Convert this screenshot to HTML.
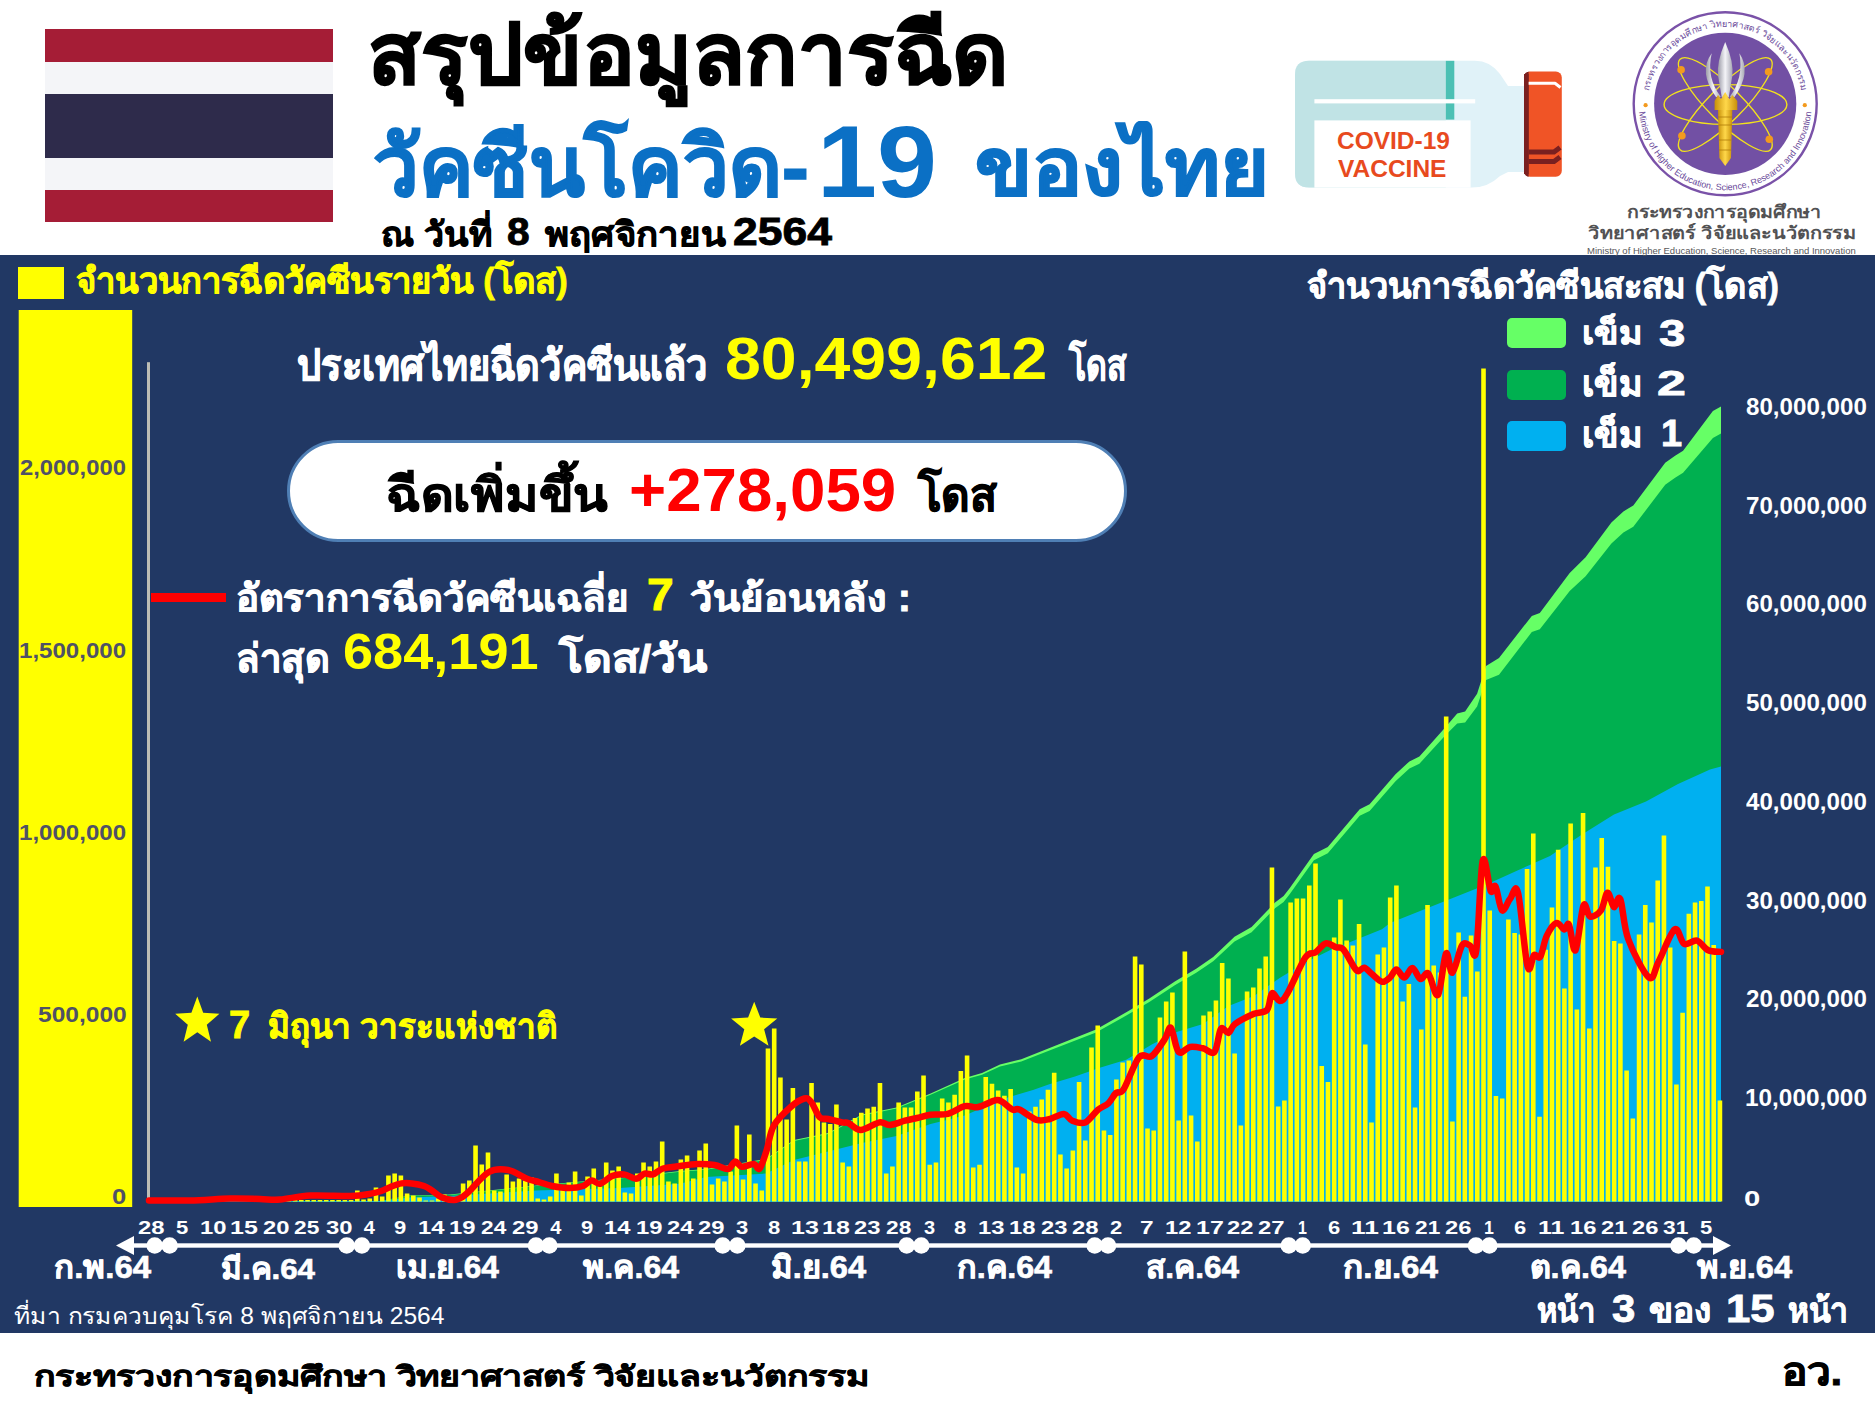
<!DOCTYPE html>
<html><head><meta charset="utf-8"><title>COVID-19 Vaccination Thailand</title>
<style>
html,body{margin:0;padding:0;background:#fff;}
body{width:1875px;height:1407px;position:relative;overflow:hidden;font-family:"Liberation Sans",sans-serif;}
.t{position:absolute;white-space:nowrap;line-height:1;transform-origin:0 0;}
.b{-webkit-text-stroke:0.02em currentColor;}
.m{-webkit-text-stroke:0.022em currentColor;}
#art{position:absolute;left:0;top:0;visibility:visible}
</style></head><body>
<svg id="art" width="1875" height="1407" viewBox="0 0 1875 1407">
<rect x="0" y="0" width="1875" height="1407" fill="#fff"/>
<!-- flag -->
<rect x="45" y="29" width="288" height="33" fill="#A51D36"/>
<rect x="45" y="62" width="288" height="32" fill="#F4F5F8"/>
<rect x="45" y="94" width="288" height="64" fill="#2E2B4B"/>
<rect x="45" y="158" width="288" height="32" fill="#F4F5F8"/>
<rect x="45" y="190" width="288" height="32" fill="#A51D36"/>
<!-- vaccine bottle -->
<g>
<path d="M1309,60.8 H1475 Q1490,60.8 1500,74 L1508,86 H1524 V172 H1508 L1500,176 Q1488,187.6 1472,187.6 H1309 Q1295,187.6 1295,173.6 V74.8 Q1295,60.8 1309,60.8 Z" fill="#E0F2F8"/>
<path d="M1309,60.8 H1445.8 V187.6 H1309 Q1295,187.6 1295,173.6 V74.8 Q1295,60.8 1309,60.8 Z" fill="#C0E3E5"/>
<rect x="1445.8" y="60.8" width="8.5" height="58.8" fill="#4CC0B4"/>
<rect x="1314.4" y="99.2" width="160.8" height="4.2" fill="#fff"/>
<rect x="1314.4" y="120.4" width="156.2" height="67.2" fill="#fff"/>
<rect x="1524" y="71.6" width="37.8" height="105.2" rx="6" fill="#F05426"/>
<path d="M1530,71.6 Q1524,71.6 1524,77.6 V170.8 Q1524,176.8 1530,176.8 H1528.6 V71.6 Z" fill="#7A2020"/>
<rect x="1524" y="74" width="4.6" height="100" fill="#7A2020"/>
<path d="M1528.6,83.2 H1555 L1560.5,87.5" stroke="#fff" stroke-width="3" stroke-linejoin="round" fill="none"/>
<path d="M1528.6,152 H1554 L1560,147.5 M1528.6,161.5 H1554 L1560,157" stroke="#7A2020" stroke-width="5" stroke-linejoin="round" fill="none"/>
</g>
<g id="logo">
<defs>
<linearGradient id="silv" x1="0" y1="0" x2="1" y2="0"><stop offset="0" stop-color="#9A9AA6"/><stop offset="0.5" stop-color="#F4F4F8"/><stop offset="1" stop-color="#A8A8B4"/></linearGradient>
<linearGradient id="gold" x1="0" y1="0" x2="1" y2="0"><stop offset="0" stop-color="#C8900A"/><stop offset="0.5" stop-color="#FFD84A"/><stop offset="1" stop-color="#C8900A"/></linearGradient>
<path id="arcTop" d="M1648.2,103.8 A77,77 0 0,1 1802.2,103.8"/>
<path id="arcBot" d="M1638.7,103.8 A86.5,86.5 0 0,0 1811.7,103.8"/>
</defs>
<circle cx="1725.2" cy="103.8" r="91.5" fill="#fff" stroke="#7A52A8" stroke-width="2.4"/>
<circle cx="1725.2" cy="103.8" r="71.1" fill="#7250A4"/>
<text font-family="Liberation Sans, sans-serif" font-size="9" fill="#6A4A9A" letter-spacing="0.1"><textPath href="#arcTop" startOffset="50%" text-anchor="middle">กระทรวงการอุดมศึกษา วิทยาศาสตร์ วิจัยและนวัตกรรม</textPath></text>
<text font-family="Liberation Sans, sans-serif" font-size="9" fill="#6A4A9A"><textPath href="#arcBot" startOffset="50%" text-anchor="middle">Ministry of Higher Education, Science, Research and Innovation</textPath></text>
<circle cx="1645.6" cy="105.2" r="2.1" fill="#F39A1E"/>
<circle cx="1804.8" cy="105.2" r="2.1" fill="#F39A1E"/>
<g fill="none" stroke="#F2E21C" stroke-width="1.4">
<ellipse cx="1725.5" cy="104.5" rx="61.4" ry="19.9"/>
<ellipse cx="1725.3" cy="104.5" rx="64" ry="17" transform="rotate(45 1725.3 104.5)"/>
<ellipse cx="1725.3" cy="104.5" rx="64" ry="17" transform="rotate(-45 1725.3 104.5)"/>
</g>
<g fill="#F39A1E">
<circle cx="1681.1" cy="69.7" r="3.8"/><circle cx="1768.6" cy="71.8" r="3.8"/><circle cx="1681.9" cy="135.8" r="3.8"/><circle cx="1769.3" cy="139.3" r="3.8"/>
</g>
<path d="M1711.7,53.3 Q1698,72 1716,97 L1721,97 Q1706,78 1711.7,53.3 Z" fill="url(#silv)"/>
<path d="M1739.4,53.3 Q1752,72 1734.5,97 L1729.5,97 Q1744,78 1739.4,53.3 Z" fill="url(#silv)"/>
<path d="M1725.2,42 Q1734,62 1732.3,76 L1728.8,97 L1721.7,97 L1718.1,76 Q1716.5,62 1725.2,42 Z" fill="url(#silv)"/>
<path d="M1714.6,110 L1714.6,101 L1718,95 L1721,99 L1725.2,92 L1729.4,99 L1732.4,95 L1737.3,101 L1737.3,110 Z" fill="url(#gold)"/>
<path d="M1718,110 H1732.3 L1731,158 L1725.2,166 L1719.4,158 Z" fill="url(#gold)"/>
<g stroke="#B07C08" stroke-width="0.8">
<path d="M1718,117 H1732.3 M1718.5,125 H1732 M1719,140 H1731.5 M1719.2,150 H1731.2"/>
</g>
</g>

<!-- panel -->
<rect x="0" y="255" width="1875" height="1078" fill="#213864"/>
<rect x="18" y="267" width="46" height="32" fill="#FFFF00"/>
<rect x="18.7" y="310" width="113.5" height="897" fill="#FFFF00"/>
<rect x="147" y="362.2" width="3" height="840" fill="#BDBDB5"/>
<rect x="1507" y="318" width="59" height="30" rx="5" fill="#66FF66"/>
<rect x="1507" y="370" width="59" height="30" rx="5" fill="#00B050"/>
<rect x="1507" y="421" width="59" height="30" rx="5" fill="#00B0F0"/>
<path d="M149.0,1202.0 L149.0,1201.5 L380.0,1201.0 L410.0,1195.5 L450.0,1194.5 L536.0,1185.5 L620.0,1178.0 L680.0,1171.0 L706.0,1169.0 L766.0,1159.0 L794.0,1140.0 L828.0,1133.0 L862.0,1114.5 L896.5,1107.5 L930.6,1093.5 L964.8,1078.0 L982.0,1073.0 L1000.0,1064.6 L1021.3,1059.3 L1053.3,1046.5 L1096.0,1029.5 L1128.0,1011.3 L1149.3,998.6 L1174.8,981.5 L1196.2,968.7 L1213.2,957.0 L1234.5,936.7 L1251.6,927.1 L1275.0,902.6 L1283.6,896.0 L1290.0,887.8 L1313.9,854.0 L1327.8,847.0 L1359.7,809.2 L1369.6,804.2 L1395.5,774.3 L1409.4,761.4 L1419.4,756.4 L1445.2,727.6 L1457.2,713.6 L1465.1,711.6 L1477.1,693.7 L1486.0,665.9 L1499.0,657.9 L1531.8,615.9 L1539.8,612.9 L1569.7,573.1 L1585.6,557.2 L1611.4,522.4 L1623.4,511.4 L1633.3,505.4 L1665.2,462.7 L1675.1,455.7 L1683.1,450.7 L1712.9,410.9 L1721.0,406.5 L1721.0,1202.0 Z" fill="#66FF66"/>
<path d="M149.0,1202.0 L149.0,1201.5 L380.0,1201.3 L410.0,1195.8 L450.0,1194.9 L536.0,1186.0 L620.0,1178.6 L680.0,1171.7 L706.0,1169.7 L766.0,1159.8 L794.0,1140.9 L828.0,1133.9 L862.0,1115.4 L896.5,1108.5 L930.6,1094.8 L964.8,1079.6 L982.0,1074.8 L1000.0,1066.6 L1021.3,1061.5 L1053.3,1049.0 L1096.0,1032.5 L1128.0,1014.6 L1149.3,1002.1 L1174.8,985.2 L1196.2,972.7 L1213.2,961.3 L1234.5,941.5 L1251.6,932.2 L1275.0,908.3 L1283.6,901.9 L1290.0,893.8 L1313.9,860.2 L1327.8,853.3 L1359.7,815.8 L1369.6,810.9 L1395.5,781.3 L1409.4,768.6 L1419.4,763.8 L1445.2,735.6 L1457.2,723.4 L1465.1,722.6 L1477.1,706.4 L1486.0,679.9 L1499.0,674.7 L1531.8,632.0 L1539.8,629.2 L1569.7,591.1 L1585.6,576.3 L1611.4,543.4 L1623.4,532.6 L1633.3,526.8 L1665.2,484.7 L1675.1,477.7 L1683.1,472.7 L1712.9,437.9 L1721.0,433.5 L1721.0,1202.0 Z" fill="#00B050"/>
<path d="M149.0,1202.0 L149.0,1201.5 L380.0,1201.0 L410.0,1197.5 L450.0,1196.0 L536.0,1190.6 L620.0,1188.0 L680.0,1183.8 L706.0,1177.0 L766.0,1173.6 L794.0,1160.0 L828.0,1151.4 L862.0,1142.9 L896.5,1136.0 L930.6,1124.0 L964.8,1115.6 L999.0,1100.2 L1016.0,1095.0 L1033.0,1090.0 L1050.0,1084.0 L1075.0,1076.5 L1100.6,1067.5 L1126.2,1059.8 L1151.8,1044.5 L1177.4,1031.7 L1203.0,1024.0 L1228.5,1006.0 L1254.0,995.9 L1279.7,978.0 L1305.3,962.6 L1330.9,949.8 L1356.5,939.6 L1382.0,929.3 L1390.0,923.1 L1422.0,910.3 L1454.0,897.5 L1486.0,884.7 L1518.0,870.3 L1550.0,856.0 L1582.0,834.6 L1614.0,814.4 L1646.0,801.6 L1678.0,784.0 L1710.0,769.6 L1721.0,766.4 L1721.0,1202.0 Z" fill="#00B0F0"/>
<path d="M255.47,1200.0h4.60v1.5h-4.60z M261.70,1200.0h4.60v1.5h-4.60z M267.92,1200.0h4.60v1.5h-4.60z M274.14,1200.0h4.60v1.5h-4.60z M280.36,1200.0h4.60v1.5h-4.60z M286.58,1200.0h4.60v1.5h-4.60z M292.81,1200.0h4.60v1.5h-4.60z M299.03,1200.0h4.60v1.5h-4.60z M305.25,1200.0h4.60v1.5h-4.60z M311.47,1200.0h4.60v1.5h-4.60z M317.69,1200.0h4.60v1.5h-4.60z M323.92,1200.0h4.60v1.5h-4.60z M330.14,1200.0h4.60v1.5h-4.60z M336.36,1200.0h4.60v1.5h-4.60z M342.58,1200.0h4.60v1.5h-4.60z M348.80,1200.0h4.60v1.5h-4.60z M355.03,1190.5h4.60v11.0h-4.60z M361.25,1199.5h4.60v2.0h-4.60z M367.47,1198.5h4.60v3.0h-4.60z M373.69,1187.5h4.60v14.0h-4.60z M379.91,1196.5h4.60v5.0h-4.60z M386.14,1175.5h4.60v26.0h-4.60z M392.36,1173.5h4.60v28.0h-4.60z M398.58,1175.5h4.60v26.0h-4.60z M404.80,1193.5h4.60v8.0h-4.60z M411.02,1195.5h4.60v6.0h-4.60z M417.25,1197.5h4.60v4.0h-4.60z M423.47,1200.5h4.60v1.0h-4.60z M429.69,1200.5h4.60v1.0h-4.60z M435.91,1198.5h4.60v3.0h-4.60z M442.13,1194.5h4.60v7.0h-4.60z M448.36,1199.5h4.60v2.0h-4.60z M454.58,1199.5h4.60v2.0h-4.60z M460.80,1183.5h4.60v18.0h-4.60z M467.02,1180.5h4.60v21.0h-4.60z M473.24,1145.5h4.60v56.0h-4.60z M479.47,1164.5h4.60v37.0h-4.60z M485.69,1152.5h4.60v49.0h-4.60z M491.91,1190.5h4.60v11.0h-4.60z M498.13,1191.5h4.60v10.0h-4.60z M504.35,1174.5h4.60v27.0h-4.60z M510.58,1181.5h4.60v20.0h-4.60z M516.80,1178.5h4.60v23.0h-4.60z M523.02,1180.5h4.60v21.0h-4.60z M529.24,1177.5h4.60v24.0h-4.60z M535.46,1198.5h4.60v3.0h-4.60z M541.69,1199.5h4.60v2.0h-4.60z M547.91,1196.5h4.60v5.0h-4.60z M554.13,1173.5h4.60v28.0h-4.60z M560.35,1188.5h4.60v13.0h-4.60z M566.57,1182.5h4.60v19.0h-4.60z M572.80,1171.5h4.60v30.0h-4.60z M579.02,1195.5h4.60v6.0h-4.60z M585.24,1176.5h4.60v25.0h-4.60z M591.46,1168.5h4.60v33.0h-4.60z M597.68,1186.5h4.60v15.0h-4.60z M603.91,1162.5h4.60v39.0h-4.60z M610.13,1170.5h4.60v31.0h-4.60z M616.35,1166.5h4.60v35.0h-4.60z M622.57,1192.5h4.60v9.0h-4.60z M628.79,1193.5h4.60v8.0h-4.60z M635.02,1173.5h4.60v28.0h-4.60z M641.24,1162.5h4.60v39.0h-4.60z M647.46,1166.5h4.60v35.0h-4.60z M653.68,1161.5h4.60v40.0h-4.60z M659.90,1141.5h4.60v60.0h-4.60z M666.13,1181.5h4.60v20.0h-4.60z M672.35,1183.5h4.60v18.0h-4.60z M678.57,1159.5h4.60v42.0h-4.60z M684.79,1155.5h4.60v46.0h-4.60z M691.01,1178.5h4.60v23.0h-4.60z M697.24,1150.5h4.60v51.0h-4.60z M703.46,1143.5h4.60v58.0h-4.60z M709.68,1184.5h4.60v17.0h-4.60z M715.90,1178.5h4.60v23.0h-4.60z M722.12,1181.5h4.60v20.0h-4.60z M728.35,1171.5h4.60v30.0h-4.60z M734.57,1125.5h4.60v76.0h-4.60z M740.79,1179.5h4.60v22.0h-4.60z M747.01,1134.5h4.60v67.0h-4.60z M753.23,1183.5h4.60v18.0h-4.60z M759.46,1190.5h4.60v11.0h-4.60z M765.68,1048.5h4.60v153.0h-4.60z M771.90,1028.5h4.60v173.0h-4.60z M778.12,1077.5h4.60v124.0h-4.60z M784.34,1119.5h4.60v82.0h-4.60z M790.57,1088.0h4.60v113.5h-4.60z M796.79,1161.5h4.60v40.0h-4.60z M803.01,1161.5h4.60v40.0h-4.60z M809.23,1082.9h4.60v118.6h-4.60z M815.45,1102.5h4.60v99.0h-4.60z M821.68,1122.5h4.60v79.0h-4.60z M827.90,1123.9h4.60v77.6h-4.60z M834.12,1104.5h4.60v97.0h-4.60z M840.34,1162.5h4.60v39.0h-4.60z M846.56,1166.5h4.60v35.0h-4.60z M852.79,1117.9h4.60v83.6h-4.60z M859.01,1112.8h4.60v88.7h-4.60z M865.23,1108.5h4.60v93.0h-4.60z M871.45,1106.8h4.60v94.7h-4.60z M877.67,1082.9h4.60v118.6h-4.60z M883.90,1173.5h4.60v28.0h-4.60z M890.12,1166.5h4.60v35.0h-4.60z M896.34,1102.5h4.60v99.0h-4.60z M902.56,1107.6h4.60v93.9h-4.60z M908.78,1107.6h4.60v93.9h-4.60z M915.01,1091.5h4.60v110.0h-4.60z M921.23,1075.5h4.60v126.0h-4.60z M927.45,1164.8h4.60v36.7h-4.60z M933.67,1162.5h4.60v39.0h-4.60z M939.89,1098.5h4.60v103.0h-4.60z M946.12,1102.5h4.60v99.0h-4.60z M952.34,1094.8h4.60v106.7h-4.60z M958.56,1071.0h4.60v130.5h-4.60z M964.78,1055.5h4.60v146.0h-4.60z M971.00,1167.5h4.60v34.0h-4.60z M977.23,1164.8h4.60v36.7h-4.60z M983.45,1076.9h4.60v124.6h-4.60z M989.67,1083.8h4.60v117.7h-4.60z M995.89,1090.5h4.60v111.0h-4.60z M1002.11,1095.7h4.60v105.8h-4.60z M1008.34,1088.9h4.60v112.6h-4.60z M1014.56,1167.5h4.60v34.0h-4.60z M1020.78,1173.5h4.60v28.0h-4.60z M1027.00,1111.5h4.60v90.0h-4.60z M1033.22,1106.8h4.60v94.7h-4.60z M1039.45,1099.5h4.60v102.0h-4.60z M1045.67,1089.7h4.60v111.8h-4.60z M1051.89,1072.7h4.60v128.8h-4.60z M1058.11,1154.5h4.60v47.0h-4.60z M1064.33,1168.5h4.60v33.0h-4.60z M1070.56,1150.5h4.60v51.0h-4.60z M1076.78,1082.0h4.60v119.5h-4.60z M1083.00,1140.5h4.60v61.0h-4.60z M1089.22,1047.5h4.60v154.0h-4.60z M1095.44,1025.5h4.60v176.0h-4.60z M1101.67,1130.5h4.60v71.0h-4.60z M1107.89,1135.0h4.60v66.5h-4.60z M1114.11,1079.5h4.60v122.0h-4.60z M1120.33,1062.5h4.60v139.0h-4.60z M1126.55,1060.5h4.60v141.0h-4.60z M1132.78,956.5h4.60v245.0h-4.60z M1139.00,964.5h4.60v237.0h-4.60z M1145.22,1128.5h4.60v73.0h-4.60z M1151.44,1130.5h4.60v71.0h-4.60z M1157.66,1017.5h4.60v184.0h-4.60z M1163.89,1001.5h4.60v200.0h-4.60z M1170.11,992.5h4.60v209.0h-4.60z M1176.33,1120.5h4.60v81.0h-4.60z M1182.55,951.5h4.60v250.0h-4.60z M1188.77,1115.5h4.60v86.0h-4.60z M1195.00,1141.5h4.60v60.0h-4.60z M1201.22,1015.5h4.60v186.0h-4.60z M1207.44,1011.5h4.60v190.0h-4.60z M1213.66,1000.5h4.60v201.0h-4.60z M1219.88,963.0h4.60v238.5h-4.60z M1226.11,978.5h4.60v223.0h-4.60z M1232.33,1053.5h4.60v148.0h-4.60z M1238.55,1125.5h4.60v76.0h-4.60z M1244.77,991.5h4.60v210.0h-4.60z M1250.99,987.5h4.60v214.0h-4.60z M1257.22,968.5h4.60v233.0h-4.60z M1263.44,956.5h4.60v245.0h-4.60z M1269.66,867.5h4.60v334.0h-4.60z M1275.88,1106.5h4.60v95.0h-4.60z M1282.10,1100.5h4.60v101.0h-4.60z M1288.33,902.5h4.60v299.0h-4.60z M1294.55,898.5h4.60v303.0h-4.60z M1300.77,898.5h4.60v303.0h-4.60z M1306.99,885.5h4.60v316.0h-4.60z M1313.21,863.5h4.60v338.0h-4.60z M1319.44,1065.9h4.60v135.6h-4.60z M1325.66,1082.0h4.60v119.5h-4.60z M1331.88,937.5h4.60v264.0h-4.60z M1338.10,899.5h4.60v302.0h-4.60z M1344.32,940.5h4.60v261.0h-4.60z M1350.55,945.5h4.60v256.0h-4.60z M1356.77,923.9h4.60v277.6h-4.60z M1362.99,1044.5h4.60v157.0h-4.60z M1369.21,1122.5h4.60v79.0h-4.60z M1375.43,954.5h4.60v247.0h-4.60z M1381.66,947.5h4.60v254.0h-4.60z M1387.88,897.5h4.60v304.0h-4.60z M1394.10,885.5h4.60v316.0h-4.60z M1400.32,1001.5h4.60v200.0h-4.60z M1406.54,984.0h4.60v217.5h-4.60z M1412.77,1107.5h4.60v94.0h-4.60z M1418.99,1029.5h4.60v172.0h-4.60z M1425.21,905.0h4.60v296.5h-4.60z M1431.43,965.5h4.60v236.0h-4.60z M1437.65,972.5h4.60v229.0h-4.60z M1443.88,716.5h4.60v485.0h-4.60z M1450.10,1121.5h4.60v80.0h-4.60z M1456.32,932.5h4.60v269.0h-4.60z M1462.54,996.8h4.60v204.7h-4.60z M1468.76,935.5h4.60v266.0h-4.60z M1474.99,971.5h4.60v230.0h-4.60z M1481.21,368.5h4.60v833.0h-4.60z M1487.43,910.5h4.60v291.0h-4.60z M1493.65,1096.0h4.60v105.5h-4.60z M1499.87,1098.5h4.60v103.0h-4.60z M1506.10,919.5h4.60v282.0h-4.60z M1512.32,932.9h4.60v268.6h-4.60z M1518.54,934.5h4.60v267.0h-4.60z M1524.76,868.9h4.60v332.6h-4.60z M1530.98,833.5h4.60v368.0h-4.60z M1537.21,1116.8h4.60v84.7h-4.60z M1543.43,949.8h4.60v251.7h-4.60z M1549.65,907.5h4.60v294.0h-4.60z M1555.87,849.7h4.60v351.8h-4.60z M1562.09,988.5h4.60v213.0h-4.60z M1568.32,823.5h4.60v378.0h-4.60z M1574.54,1009.5h4.60v192.0h-4.60z M1580.76,812.9h4.60v388.6h-4.60z M1586.98,1028.5h4.60v173.0h-4.60z M1593.20,867.5h4.60v334.0h-4.60z M1599.43,837.9h4.60v363.6h-4.60z M1605.65,866.7h4.60v334.8h-4.60z M1611.87,940.9h4.60v260.6h-4.60z M1618.09,943.5h4.60v258.0h-4.60z M1624.31,1070.5h4.60v131.0h-4.60z M1630.54,1118.5h4.60v83.0h-4.60z M1636.76,934.5h4.60v267.0h-4.60z M1642.98,905.0h4.60v296.5h-4.60z M1649.20,922.5h4.60v279.0h-4.60z M1655.42,880.5h4.60v321.0h-4.60z M1661.65,835.5h4.60v366.0h-4.60z M1667.87,947.5h4.60v254.0h-4.60z M1674.09,1084.5h4.60v117.0h-4.60z M1680.31,1012.8h4.60v188.7h-4.60z M1686.53,913.7h4.60v287.8h-4.60z M1692.76,902.5h4.60v299.0h-4.60z M1698.98,900.9h4.60v300.6h-4.60z M1705.20,886.5h4.60v315.0h-4.60z M1711.42,945.0h4.60v256.5h-4.60z M1717.64,1100.5h4.60v101.0h-4.60z" fill="#FFFF00"/>
<path d="M149.0,1200.5 C155.8,1200.5 176.5,1200.8 190.0,1200.5 C203.5,1200.2 218.3,1198.8 230.0,1198.5 C241.7,1198.2 251.7,1198.8 260.0,1199.0 C268.3,1199.2 271.6,1200.1 280.0,1199.5 C288.4,1198.9 298.6,1196.2 310.4,1195.6 C322.2,1195.0 340.9,1196.3 351.0,1196.0 C361.1,1195.7 365.9,1194.4 371.0,1193.6 C376.1,1192.8 377.9,1192.2 381.3,1191.0 C384.7,1189.8 388.1,1187.8 391.5,1186.5 C394.9,1185.2 398.2,1183.9 401.6,1183.4 C405.0,1182.9 408.0,1183.0 411.7,1183.4 C415.4,1183.8 420.6,1184.8 424.0,1186.0 C427.4,1187.2 429.0,1188.6 432.0,1190.5 C435.0,1192.4 438.3,1196.0 442.0,1197.6 C445.7,1199.2 450.9,1200.1 454.3,1200.0 C457.7,1199.9 459.8,1198.6 462.4,1197.0 C465.0,1195.4 465.6,1194.7 470.0,1190.5 C474.4,1186.3 482.7,1175.4 489.0,1172.0 C495.3,1168.6 501.7,1168.9 508.0,1170.0 C514.3,1171.1 521.8,1176.7 527.0,1178.7 C532.2,1180.7 534.8,1180.8 539.0,1182.0 C543.2,1183.2 546.9,1185.0 552.0,1186.0 C557.1,1187.0 564.3,1188.0 569.5,1188.0 C574.7,1188.0 579.3,1187.3 583.0,1186.0 C586.7,1184.7 588.8,1180.8 591.6,1180.4 C594.4,1180.0 596.6,1184.5 600.0,1183.8 C603.4,1183.1 608.0,1177.6 612.0,1176.0 C616.0,1174.4 620.0,1174.0 624.0,1174.4 C628.0,1174.9 632.6,1178.8 636.0,1178.7 C639.4,1178.6 641.7,1174.3 644.5,1173.6 C647.3,1172.9 649.9,1175.2 653.0,1174.4 C656.1,1173.6 658.5,1169.9 663.0,1168.5 C667.5,1167.1 674.3,1166.8 680.0,1166.0 C685.7,1165.2 691.2,1164.2 697.0,1164.0 C702.8,1163.8 709.3,1164.2 714.5,1165.0 C719.7,1165.8 724.6,1169.6 728.0,1169.0 C731.4,1168.4 732.7,1162.0 735.0,1161.6 C737.3,1161.2 738.7,1166.4 741.8,1166.8 C744.9,1167.2 750.8,1163.7 753.8,1164.0 C756.8,1164.3 757.5,1170.9 759.7,1168.5 C761.9,1166.1 764.5,1156.8 766.8,1149.7 C769.1,1142.6 769.7,1132.9 773.7,1125.8 C777.7,1118.7 785.6,1111.5 790.7,1107.0 C795.8,1102.5 801.0,1099.3 804.4,1098.5 C807.8,1097.7 808.7,1098.9 811.2,1102.0 C813.8,1105.1 816.9,1114.5 819.7,1117.3 C822.6,1120.1 824.6,1118.2 828.3,1119.0 C832.0,1119.8 838.6,1121.7 842.0,1122.4 C845.4,1123.1 845.6,1121.9 848.7,1123.2 C851.8,1124.5 855.6,1130.1 860.7,1130.0 C865.8,1129.9 874.7,1123.2 879.5,1122.4 C884.3,1121.6 885.5,1125.3 889.7,1125.0 C894.0,1124.7 900.5,1121.9 905.0,1120.7 C909.5,1119.5 912.7,1119.0 917.0,1118.0 C921.3,1117.0 925.5,1115.4 930.6,1114.7 C935.7,1114.0 942.0,1115.3 947.7,1113.9 C953.4,1112.5 959.7,1107.4 964.8,1106.2 C969.9,1105.0 973.3,1108.0 978.4,1107.0 C983.5,1106.0 991.5,1101.0 995.5,1100.2 C999.5,1099.4 999.4,1100.3 1002.3,1101.9 C1005.1,1103.5 1009.8,1108.3 1012.6,1109.6 C1015.5,1110.9 1015.4,1107.9 1019.4,1109.6 C1023.4,1111.3 1031.4,1118.2 1036.5,1119.8 C1041.6,1121.4 1045.5,1120.0 1050.0,1119.0 C1054.5,1118.0 1060.1,1113.6 1063.8,1113.9 C1067.5,1114.2 1068.7,1119.3 1072.3,1120.7 C1075.9,1122.1 1080.9,1124.3 1085.2,1122.5 C1089.5,1120.7 1094.2,1112.9 1098.0,1109.7 C1101.8,1106.5 1105.3,1106.1 1108.3,1103.3 C1111.3,1100.5 1113.5,1095.3 1116.0,1093.0 C1118.5,1090.7 1119.8,1095.2 1123.6,1089.3 C1127.4,1083.3 1134.3,1062.8 1139.0,1057.3 C1143.7,1051.8 1147.5,1059.0 1151.8,1056.0 C1156.1,1053.0 1161.4,1044.1 1164.6,1039.4 C1167.8,1034.7 1168.7,1025.7 1171.0,1027.8 C1173.3,1029.9 1175.4,1048.8 1178.6,1052.0 C1181.8,1055.2 1185.9,1047.6 1190.0,1047.0 C1194.1,1046.4 1198.9,1047.5 1203.0,1048.3 C1207.1,1049.1 1211.5,1055.2 1214.5,1052.0 C1217.5,1048.8 1218.6,1032.2 1220.9,1029.0 C1223.2,1025.8 1226.2,1033.8 1228.5,1033.0 C1230.8,1032.2 1230.8,1027.2 1235.0,1024.0 C1239.2,1020.8 1248.7,1016.1 1254.0,1013.8 C1259.3,1011.5 1264.0,1013.4 1267.0,1010.0 C1270.0,1006.6 1269.9,994.8 1272.0,993.3 C1274.1,991.8 1277.1,1001.0 1279.7,1001.0 C1282.3,1001.0 1283.1,1000.5 1287.4,993.3 C1291.7,986.0 1300.6,964.3 1305.3,957.5 C1310.0,950.7 1312.1,954.8 1315.5,952.4 C1318.9,950.0 1322.4,944.3 1325.8,943.4 C1329.2,942.5 1333.0,946.1 1336.0,947.2 C1339.0,948.3 1340.3,945.9 1343.7,949.8 C1347.1,953.6 1353.1,967.3 1356.5,970.3 C1359.9,973.3 1361.6,967.1 1364.2,967.7 C1366.8,968.3 1368.9,971.6 1371.9,974.0 C1374.9,976.4 1379.0,981.2 1382.0,981.8 C1385.0,982.4 1387.6,979.5 1390.0,977.5 C1392.4,975.5 1394.0,969.5 1396.4,969.5 C1398.8,969.5 1401.7,977.8 1404.4,977.5 C1407.1,977.2 1409.7,967.6 1412.4,967.9 C1415.1,968.1 1417.7,978.0 1420.4,979.0 C1423.1,980.0 1425.5,970.9 1428.4,973.6 C1431.3,976.3 1435.1,998.4 1438.0,995.0 C1440.9,991.6 1443.6,957.2 1446.0,953.5 C1448.4,949.8 1449.7,974.0 1452.4,972.7 C1455.1,971.4 1459.1,950.0 1462.0,945.5 C1464.9,941.0 1467.6,944.7 1470.0,945.5 C1472.4,946.3 1474.2,964.4 1476.3,950.3 C1478.4,936.2 1480.3,870.6 1482.7,860.7 C1485.1,850.8 1488.6,886.7 1490.7,891.0 C1492.8,895.3 1493.6,883.1 1495.5,886.3 C1497.4,889.5 1499.6,908.2 1502.0,910.3 C1504.4,912.4 1507.3,901.9 1510.0,899.0 C1512.7,896.1 1515.1,881.5 1518.0,892.7 C1520.9,903.9 1524.8,955.9 1527.5,966.3 C1530.2,976.7 1531.9,956.6 1534.0,955.0 C1536.1,953.4 1538.2,959.9 1540.3,956.7 C1542.4,953.5 1544.0,941.5 1546.7,935.9 C1549.4,930.3 1553.4,924.1 1556.3,923.0 C1559.2,921.9 1562.2,929.2 1564.3,929.5 C1566.4,929.8 1567.1,921.2 1569.0,924.7 C1570.9,928.2 1573.1,953.5 1575.5,950.3 C1577.9,947.1 1581.1,911.1 1583.5,905.5 C1585.9,899.9 1587.1,915.9 1590.0,916.7 C1592.9,917.5 1598.1,914.3 1601.0,910.3 C1603.9,906.3 1605.3,893.2 1607.5,892.7 C1609.7,892.2 1611.8,906.0 1613.9,907.0 C1616.0,908.0 1617.9,893.7 1620.3,899.0 C1622.7,904.3 1623.4,925.9 1628.2,939.0 C1633.0,952.1 1643.9,973.8 1649.0,977.5 C1654.1,981.2 1654.3,969.5 1658.6,961.5 C1662.9,953.5 1670.3,932.4 1674.6,929.5 C1678.9,926.6 1680.5,942.0 1684.2,943.9 C1687.9,945.8 1693.0,939.6 1697.0,940.7 C1701.0,941.8 1704.2,948.4 1708.2,950.3 C1712.2,952.2 1718.9,951.6 1721.0,951.9" fill="none" stroke="#FF0000" stroke-width="6.5" stroke-linejoin="round" stroke-linecap="round"/>
<rect x="288.5" y="441.5" width="837" height="99" rx="49.5" fill="#fff" stroke="#4F7FB5" stroke-width="3"/>
<rect x="151" y="593" width="75" height="9" fill="#FF0000"/>
<polygon points="197.3,996.5 203.2,1012.8 219.4,1013.8 206.8,1024.8 211.0,1041.7 197.3,1032.2 183.6,1041.7 187.8,1024.8 175.2,1013.8 191.4,1012.8" fill="#FFFF00"/>
<polygon points="754.2,1001.8 760.3,1017.6 777.3,1018.6 764.1,1029.3 768.5,1045.8 754.2,1036.5 739.9,1045.8 744.3,1029.3 731.1,1018.6 748.1,1017.6" fill="#FFFF00"/>
<!-- timeline -->
<rect x="130" y="1243.3" width="1590" height="4.4" fill="#fff"/>
<polygon points="116,1245.5 134,1236 134,1255" fill="#fff"/>
<polygon points="1731,1245.5 1713,1236 1713,1255" fill="#fff"/>
<circle cx="154.7" cy="1245.5" r="8.3" fill="#fff"/><circle cx="169.6" cy="1245.5" r="8.3" fill="#fff"/><circle cx="346.7" cy="1245.5" r="8.3" fill="#fff"/><circle cx="361.9" cy="1245.5" r="8.3" fill="#fff"/><circle cx="536.0" cy="1245.5" r="8.3" fill="#fff"/><circle cx="549.3" cy="1245.5" r="8.3" fill="#fff"/><circle cx="722.7" cy="1245.5" r="8.3" fill="#fff"/><circle cx="737.3" cy="1245.5" r="8.3" fill="#fff"/><circle cx="906.7" cy="1245.5" r="8.3" fill="#fff"/><circle cx="921.3" cy="1245.5" r="8.3" fill="#fff"/><circle cx="1094.7" cy="1245.5" r="8.3" fill="#fff"/><circle cx="1108.0" cy="1245.5" r="8.3" fill="#fff"/><circle cx="1288.8" cy="1245.5" r="8.3" fill="#fff"/><circle cx="1302.7" cy="1245.5" r="8.3" fill="#fff"/><circle cx="1476.0" cy="1245.5" r="8.3" fill="#fff"/><circle cx="1489.3" cy="1245.5" r="8.3" fill="#fff"/><circle cx="1678.5" cy="1245.5" r="8.3" fill="#fff"/><circle cx="1693.7" cy="1245.5" r="8.3" fill="#fff"/>
</svg>
<div class="t b" id="title1" style="left:368.29px;top:12.74px;font-size:96px;font-weight:700;color:#000;transform:scale(0.9030,0.8639)">สรุปข้อมูลการฉีด</div>
<div class="t b" id="title2a" style="left:373.18px;top:125.57px;font-size:100px;font-weight:700;color:#0B70C5;transform:scale(0.8158,0.8172)">วัคซีนโควิด-</div>
<div class="t" id="title2b" style="left:816.53px;top:110.40px;font-size:100px;font-weight:700;color:#0B70C5;transform:scale(1.0784,1.0268)">19</div>
<div class="t b" id="title2c" style="left:974.58px;top:126.71px;font-size:100px;font-weight:700;color:#0B70C5;transform:scale(0.8375,0.8016)">ของไทย</div>
<div class="t m" id="datea" style="left:380.73px;top:216.83px;font-size:44px;font-weight:700;color:#000;transform:scale(0.8110,0.7741)">ณ วันที่</div>
<div class="t m" id="dateb" style="left:506.87px;top:213.38px;font-size:44px;font-weight:700;color:#000;transform:scale(0.9261,0.8758)">8</div>
<div class="t m" id="datec" style="left:545.09px;top:216.83px;font-size:44px;font-weight:700;color:#000;transform:scale(0.8280,0.7741)">พฤศจิกายน</div>
<div class="t m" id="dated" style="left:732.99px;top:213.38px;font-size:44px;font-weight:700;color:#000;transform:scale(1.0102,0.8758)">2564</div>
<div class="t m" id="leg1" style="left:76.00px;top:262.96px;font-size:38px;font-weight:700;color:#FFFF00;transform:scale(0.9059,0.9261)">จำนวนการฉีดวัคซีนรายวัน (โดส)</div>
<div class="t m" id="tot1" style="left:297.18px;top:343.69px;font-size:46px;font-weight:700;color:#fff;transform:scale(0.8242,0.9321)">ประเทศไทยฉีดวัคซีนแล้ว</div>
<div class="t" id="tot2" style="left:724.99px;top:329.38px;font-size:64px;font-weight:700;color:#FFFF00;transform:scale(1.0063,0.9286)">80,499,612</div>
<div class="t m" id="tot3" style="left:1068.69px;top:343.69px;font-size:46px;font-weight:700;color:#fff;transform:scale(0.6941,0.9321)">โดส</div>
<div class="t b" id="inc1" style="left:386.31px;top:471.76px;font-size:60px;font-weight:700;color:#000;transform:scale(0.8429,0.7816)">ฉีดเพิ่มขึ้น</div>
<div class="t" id="inc2" style="left:628.88px;top:459.34px;font-size:60px;font-weight:700;color:#FF0000;transform:scale(1.0605,1.0333)">+278,059</div>
<div class="t b" id="inc3" style="left:917.73px;top:471.76px;font-size:60px;font-weight:700;color:#000;transform:scale(0.7339,0.7816)">โดส</div>
<div class="t m" id="avg1" style="left:236.18px;top:579.31px;font-size:42px;font-weight:700;color:#fff;transform:scale(0.9108,0.9038)">อัตราการฉีดวัคซีนเฉลี่ย</div>
<div class="t m" id="avg2" style="left:646.86px;top:574.01px;font-size:42px;font-weight:700;color:#FFFF00;transform:scale(1.1429,1.0355)">7</div>
<div class="t m" id="avg3" style="left:690.05px;top:579.31px;font-size:42px;font-weight:700;color:#fff;transform:scale(0.9496,0.9038)">วันย้อนหลัง :</div>
<div class="t m" id="lat1" style="left:236.18px;top:638.72px;font-size:42px;font-weight:700;color:#fff;transform:scale(0.9091,0.9346)">ล่าสุด</div>
<div class="t" id="lat2" style="left:343.47px;top:627.45px;font-size:56px;font-weight:700;color:#FFFF00;transform:scale(0.9663,0.8937)">684,191</div>
<div class="t m" id="lat3" style="left:559.03px;top:638.72px;font-size:42px;font-weight:700;color:#fff;transform:scale(1.0532,0.9346)">โดส/วัน</div>
<div class="t m" id="cum" style="left:1307.00px;top:267.96px;font-size:38px;font-weight:700;color:#fff;transform:scale(0.9006,0.9261)">จำนวนการฉีดวัคซีนสะสม (โดส)</div>
<div class="t m" id="d3a" style="left:1581.92px;top:317.40px;font-size:44px;font-weight:700;color:#fff;transform:scale(0.8116,0.7407)">เข็ม</div>
<div class="t m" id="d3b" style="left:1658.54px;top:314.59px;font-size:44px;font-weight:700;color:#fff;transform:scale(1.0783,0.8485)">3</div>
<div class="t m" id="d2a" style="left:1581.92px;top:367.42px;font-size:44px;font-weight:700;color:#fff;transform:scale(0.8116,0.7926)">เข็ม</div>
<div class="t m" id="d2b" style="left:1656.82px;top:365.27px;font-size:44px;font-weight:700;color:#fff;transform:scale(1.1818,0.8061)">2</div>
<div class="t m" id="d1a" style="left:1581.92px;top:417.93px;font-size:44px;font-weight:700;color:#fff;transform:scale(0.8116,0.7889)">เข็ม</div>
<div class="t m" id="d1b" style="left:1661.27px;top:414.66px;font-size:44px;font-weight:700;color:#fff;transform:scale(0.8636,0.8333)">1</div>
<div class="t m" id="juna" style="left:229.33px;top:1004.66px;font-size:42px;font-weight:700;color:#FFFF00;transform:scale(0.9048,0.9419)">7</div>
<div class="t m" id="junb" style="left:267.50px;top:1009.03px;font-size:42px;font-weight:700;color:#FFFF00;transform:scale(0.7858,0.8192)">มิถุนา วาระแห่งชาติ</div>
<div class="t" id="src" style="left:14.18px;top:1303.74px;font-size:30px;font-weight:400;color:#fff;transform:scale(0.8203,0.7824)">ที่มา กรมควบคุมโรค 8 พฤศจิกายน 2564</div>
<div class="t m" id="pa" style="left:1537.04px;top:1293.26px;font-size:40px;font-weight:700;color:#fff;transform:scale(0.7708,0.8440)">หน้า</div>
<div class="t m" id="pb" style="left:1611.59px;top:1288.77px;font-size:40px;font-weight:700;color:#fff;transform:scale(1.0476,0.9667)">3</div>
<div class="t m" id="pc" style="left:1648.55px;top:1293.00px;font-size:40px;font-weight:700;color:#fff;transform:scale(0.8794,0.8440)">ของ</div>
<div class="t m" id="pd" style="left:1725.82px;top:1288.77px;font-size:40px;font-weight:700;color:#fff;transform:scale(1.0905,0.9667)">15</div>
<div class="t m" id="pe" style="left:1787.66px;top:1293.26px;font-size:40px;font-weight:700;color:#fff;transform:scale(0.7944,0.8440)">หน้า</div>
<div class="t m" id="foot" style="left:34.11px;top:1361.78px;font-size:40px;font-weight:700;color:#000;transform:scale(0.8927,0.6920)">กระทรวงการอุดมศึกษา วิทยาศาสตร์ วิจัยและนวัตกรรม</div>
<div class="t m" id="ow" style="left:1781.89px;top:1352.40px;font-size:40px;font-weight:700;color:#000;transform:scale(1.0566,0.9600)">อว.</div>
<div class="t" id="mh1" style="left:1626.85px;top:202.53px;font-size:17px;font-weight:700;color:#525254;transform:scale(1.1506,1.0400)">กระทรวงการอุดมศึกษา</div>
<div class="t" id="mh2" style="left:1588.00px;top:224.13px;font-size:17px;font-weight:700;color:#525254;transform:scale(1.1711,1.0400)">วิทยาศาสตร์ วิจัยและนวัตกรรม</div>
<div class="t" id="mh3" style="left:1586.94px;top:247.30px;font-size:9px;font-weight:400;color:#58585A;transform:scale(1.0553,1.0000)">Ministry of Higher Education, Science, Research and Innovation</div>
<div class="t" id="cv1" style="left:1337.10px;top:128.84px;font-size:20px;font-weight:700;color:#E84A1E;transform:scale(1.2242,1.1643)">COVID-19</div>
<div class="t" id="cv2" style="left:1337.65px;top:156.66px;font-size:20px;font-weight:700;color:#E84A1E;transform:scale(1.2253,1.1571)">VACCINE</div>
<div class="t" id="la0" style="left:19.74px;top:457.44px;font-size:22px;font-weight:700;color:#4F5166;transform:scale(1.0825,0.9842)">2,000,000</div>
<div class="t" id="la1" style="left:18.64px;top:639.62px;font-size:22px;font-weight:700;color:#4F5166;transform:scale(1.0938,0.9842)">1,500,000</div>
<div class="t" id="la2" style="left:18.64px;top:821.69px;font-size:22px;font-weight:700;color:#4F5166;transform:scale(1.0938,0.9842)">1,000,000</div>
<div class="t" id="la3" style="left:37.72px;top:1003.85px;font-size:22px;font-weight:700;color:#4F5166;transform:scale(1.1154,0.9842)">500,000</div>
<div class="t" id="la4" style="left:111.92px;top:1187.49px;font-size:22px;font-weight:700;color:#4F5166;transform:scale(1.1636,0.9667)">0</div>
<div class="t" id="ra0" style="left:1746.15px;top:395.63px;font-size:22px;font-weight:700;color:#fff;transform:scale(1.0972,1.0474)">80,000,000</div>
<div class="t" id="ra1" style="left:1746.15px;top:495.08px;font-size:22px;font-weight:700;color:#fff;transform:scale(1.0972,1.0474)">70,000,000</div>
<div class="t" id="ra2" style="left:1746.15px;top:593.48px;font-size:22px;font-weight:700;color:#fff;transform:scale(1.0972,1.0474)">60,000,000</div>
<div class="t" id="ra3" style="left:1746.15px;top:691.86px;font-size:22px;font-weight:700;color:#fff;transform:scale(1.0972,1.0474)">50,000,000</div>
<div class="t" id="ra4" style="left:1746.15px;top:791.31px;font-size:22px;font-weight:700;color:#fff;transform:scale(1.0972,1.0474)">40,000,000</div>
<div class="t" id="ra5" style="left:1746.15px;top:889.71px;font-size:22px;font-weight:700;color:#fff;transform:scale(1.0972,1.0474)">30,000,000</div>
<div class="t" id="ra6" style="left:1746.15px;top:988.20px;font-size:22px;font-weight:700;color:#fff;transform:scale(1.0972,1.0474)">20,000,000</div>
<div class="t" id="ra7" style="left:1745.04px;top:1086.60px;font-size:22px;font-weight:700;color:#fff;transform:scale(1.1074,1.0474)">10,000,000</div>
<div class="t" id="ra8" style="left:1743.95px;top:1188.05px;font-size:22px;font-weight:700;color:#fff;transform:scale(1.3300,0.9800)">0</div>
<div class="t" id="dt0" style="left:138.02px;top:1218.21px;font-size:20px;font-weight:700;color:#fff;transform:scale(1.1905,0.9286)">28</div>
<div class="t" id="dt1" style="left:176.32px;top:1218.21px;font-size:20px;font-weight:700;color:#fff;transform:scale(1.1000,0.9286)">5</div>
<div class="t" id="dt2" style="left:200.49px;top:1218.21px;font-size:20px;font-weight:700;color:#fff;transform:scale(1.1905,0.9286)">10</div>
<div class="t" id="dt3" style="left:230.43px;top:1218.21px;font-size:20px;font-weight:700;color:#fff;transform:scale(1.2500,0.9286)">15</div>
<div class="t" id="dt4" style="left:263.07px;top:1218.21px;font-size:20px;font-weight:700;color:#fff;transform:scale(1.1905,0.9286)">20</div>
<div class="t" id="dt5" style="left:294.31px;top:1218.21px;font-size:20px;font-weight:700;color:#fff;transform:scale(1.1364,0.9286)">25</div>
<div class="t" id="dt6" style="left:325.54px;top:1218.21px;font-size:20px;font-weight:700;color:#fff;transform:scale(1.1905,0.9286)">30</div>
<div class="t" id="dt7" style="left:363.79px;top:1218.21px;font-size:20px;font-weight:700;color:#fff;transform:scale(1.0000,0.9286)">4</div>
<div class="t" id="dt8" style="left:393.91px;top:1218.21px;font-size:20px;font-weight:700;color:#fff;transform:scale(1.1000,0.9286)">9</div>
<div class="t" id="dt9" style="left:418.05px;top:1218.21px;font-size:20px;font-weight:700;color:#fff;transform:scale(1.1905,0.9286)">14</div>
<div class="t" id="dt10" style="left:449.27px;top:1218.21px;font-size:20px;font-weight:700;color:#fff;transform:scale(1.1905,0.9286)">19</div>
<div class="t" id="dt11" style="left:480.66px;top:1218.21px;font-size:20px;font-weight:700;color:#fff;transform:scale(1.1364,0.9286)">24</div>
<div class="t" id="dt12" style="left:511.87px;top:1218.21px;font-size:20px;font-weight:700;color:#fff;transform:scale(1.1905,0.9286)">29</div>
<div class="t" id="dt13" style="left:550.18px;top:1218.21px;font-size:20px;font-weight:700;color:#fff;transform:scale(1.0000,0.9286)">4</div>
<div class="t" id="dt14" style="left:581.35px;top:1218.21px;font-size:20px;font-weight:700;color:#fff;transform:scale(1.1000,0.9286)">9</div>
<div class="t" id="dt15" style="left:604.38px;top:1218.21px;font-size:20px;font-weight:700;color:#fff;transform:scale(1.1905,0.9286)">14</div>
<div class="t" id="dt16" style="left:635.60px;top:1218.21px;font-size:20px;font-weight:700;color:#fff;transform:scale(1.1905,0.9286)">19</div>
<div class="t" id="dt17" style="left:666.85px;top:1218.21px;font-size:20px;font-weight:700;color:#fff;transform:scale(1.1905,0.9286)">24</div>
<div class="t" id="dt18" style="left:698.18px;top:1218.21px;font-size:20px;font-weight:700;color:#fff;transform:scale(1.1905,0.9286)">29</div>
<div class="t" id="dt19" style="left:736.49px;top:1218.21px;font-size:20px;font-weight:700;color:#fff;transform:scale(1.1000,0.9286)">3</div>
<div class="t" id="dt20" style="left:767.71px;top:1218.21px;font-size:20px;font-weight:700;color:#fff;transform:scale(1.1000,0.9286)">8</div>
<div class="t" id="dt21" style="left:790.62px;top:1218.21px;font-size:20px;font-weight:700;color:#fff;transform:scale(1.2500,0.9286)">13</div>
<div class="t" id="dt22" style="left:821.85px;top:1218.21px;font-size:20px;font-weight:700;color:#fff;transform:scale(1.2500,0.9286)">18</div>
<div class="t" id="dt23" style="left:854.35px;top:1218.21px;font-size:20px;font-weight:700;color:#fff;transform:scale(1.1905,0.9286)">23</div>
<div class="t" id="dt24" style="left:885.61px;top:1218.21px;font-size:20px;font-weight:700;color:#fff;transform:scale(1.1364,0.9286)">28</div>
<div class="t" id="dt25" style="left:923.95px;top:1218.21px;font-size:20px;font-weight:700;color:#fff;transform:scale(1.0000,0.9286)">3</div>
<div class="t" id="dt26" style="left:954.07px;top:1218.21px;font-size:20px;font-weight:700;color:#fff;transform:scale(1.1000,0.9286)">8</div>
<div class="t" id="dt27" style="left:978.21px;top:1218.21px;font-size:20px;font-weight:700;color:#fff;transform:scale(1.1905,0.9286)">13</div>
<div class="t" id="dt28" style="left:1009.45px;top:1218.21px;font-size:20px;font-weight:700;color:#fff;transform:scale(1.1905,0.9286)">18</div>
<div class="t" id="dt29" style="left:1040.68px;top:1218.21px;font-size:20px;font-weight:700;color:#fff;transform:scale(1.1905,0.9286)">23</div>
<div class="t" id="dt30" style="left:1071.92px;top:1218.21px;font-size:20px;font-weight:700;color:#fff;transform:scale(1.1905,0.9286)">28</div>
<div class="t" id="dt31" style="left:1110.19px;top:1218.21px;font-size:20px;font-weight:700;color:#fff;transform:scale(1.1000,0.9286)">2</div>
<div class="t" id="dt32" style="left:1140.14px;top:1218.21px;font-size:20px;font-weight:700;color:#fff;transform:scale(1.2222,0.9286)">7</div>
<div class="t" id="dt33" style="left:1164.54px;top:1218.21px;font-size:20px;font-weight:700;color:#fff;transform:scale(1.1905,0.9286)">12</div>
<div class="t" id="dt34" style="left:1195.73px;top:1218.21px;font-size:20px;font-weight:700;color:#fff;transform:scale(1.2500,0.9286)">17</div>
<div class="t" id="dt35" style="left:1227.01px;top:1218.21px;font-size:20px;font-weight:700;color:#fff;transform:scale(1.1905,0.9286)">22</div>
<div class="t" id="dt36" style="left:1258.24px;top:1218.21px;font-size:20px;font-weight:700;color:#fff;transform:scale(1.1905,0.9286)">27</div>
<div class="t" id="dt37" style="left:1297.86px;top:1218.21px;font-size:20px;font-weight:700;color:#fff;transform:scale(0.8000,0.9286)">1</div>
<div class="t" id="dt38" style="left:1327.76px;top:1218.21px;font-size:20px;font-weight:700;color:#fff;transform:scale(1.1000,0.9286)">6</div>
<div class="t" id="dt39" style="left:1350.57px;top:1218.21px;font-size:20px;font-weight:700;color:#fff;transform:scale(1.3158,0.9286)">11</div>
<div class="t" id="dt40" style="left:1382.02px;top:1218.21px;font-size:20px;font-weight:700;color:#fff;transform:scale(1.2500,0.9286)">16</div>
<div class="t" id="dt41" style="left:1414.54px;top:1218.21px;font-size:20px;font-weight:700;color:#fff;transform:scale(1.1364,0.9286)">21</div>
<div class="t" id="dt42" style="left:1444.57px;top:1218.21px;font-size:20px;font-weight:700;color:#fff;transform:scale(1.1905,0.9286)">26</div>
<div class="t" id="dt43" style="left:1484.17px;top:1218.21px;font-size:20px;font-weight:700;color:#fff;transform:scale(0.8889,0.9286)">1</div>
<div class="t" id="dt44" style="left:1514.12px;top:1218.21px;font-size:20px;font-weight:700;color:#fff;transform:scale(1.1000,0.9286)">6</div>
<div class="t" id="dt45" style="left:1538.21px;top:1218.21px;font-size:20px;font-weight:700;color:#fff;transform:scale(1.2500,0.9286)">11</div>
<div class="t" id="dt46" style="left:1569.51px;top:1218.21px;font-size:20px;font-weight:700;color:#fff;transform:scale(1.1905,0.9286)">16</div>
<div class="t" id="dt47" style="left:1600.86px;top:1218.21px;font-size:20px;font-weight:700;color:#fff;transform:scale(1.1905,0.9286)">21</div>
<div class="t" id="dt48" style="left:1632.09px;top:1218.21px;font-size:20px;font-weight:700;color:#fff;transform:scale(1.1905,0.9286)">26</div>
<div class="t" id="dt49" style="left:1663.33px;top:1218.21px;font-size:20px;font-weight:700;color:#fff;transform:scale(1.1364,0.9286)">31</div>
<div class="t" id="dt50" style="left:1700.48px;top:1218.21px;font-size:20px;font-weight:700;color:#fff;transform:scale(1.1000,0.9286)">5</div>
<div class="t m" id="mo0" style="left:54.08px;top:1251.49px;font-size:36px;font-weight:700;color:#fff;transform:scale(0.9151,0.8929)">ก.พ.64</div>
<div class="t m" id="mo1" style="left:221.13px;top:1253.79px;font-size:36px;font-weight:700;color:#fff;transform:scale(0.8704,0.8182)">มี.ค.64</div>
<div class="t m" id="mo2" style="left:396.24px;top:1251.49px;font-size:36px;font-weight:700;color:#fff;transform:scale(0.8793,0.8929)">เม.ย.64</div>
<div class="t m" id="mo3" style="left:583.00px;top:1251.49px;font-size:36px;font-weight:700;color:#fff;transform:scale(0.8899,0.8929)">พ.ค.64</div>
<div class="t m" id="mo4" style="left:771.10px;top:1252.16px;font-size:36px;font-weight:700;color:#fff;transform:scale(0.9048,0.8710)">มิ.ย.64</div>
<div class="t m" id="mo5" style="left:957.10px;top:1251.49px;font-size:36px;font-weight:700;color:#fff;transform:scale(0.8962,0.8929)">ก.ค.64</div>
<div class="t m" id="mo6" style="left:1146.12px;top:1251.49px;font-size:36px;font-weight:700;color:#fff;transform:scale(0.8774,0.8929)">ส.ค.64</div>
<div class="t m" id="mo7" style="left:1343.08px;top:1251.49px;font-size:36px;font-weight:700;color:#fff;transform:scale(0.9223,0.8929)">ก.ย.64</div>
<div class="t m" id="mo8" style="left:1530.21px;top:1251.49px;font-size:36px;font-weight:700;color:#fff;transform:scale(0.8962,0.8929)">ต.ค.64</div>
<div class="t m" id="mo9" style="left:1697.00px;top:1251.49px;font-size:36px;font-weight:700;color:#fff;transform:scale(0.9057,0.8929)">พ.ย.64</div>
<script>
(function(){var W={"title1":[709.00,0.9030,0.8639],"title2a":[534.31,0.8158,0.8172],"title2b":[111.23,1.0784,1.0268],"title2c":[352.00,0.8375,0.8016],"datea":[137.23,0.8110,0.7741],"dateb":[24.48,0.9261,0.8758],"datec":[218.00,0.8280,0.7741],"dated":[97.89,1.0102,0.8758],"leg1":[542.88,0.9059,0.9261],"tot1":[498.00,0.8242,0.9321],"tot2":[320.31,1.0063,0.9286],"tot3":[83.00,0.6941,0.9321],"inc1":[263.00,0.8429,0.7816],"inc2":[251.94,1.0605,1.0333],"inc3":[108.00,0.7339,0.7816],"avg1":[431.00,0.9108,0.9038],"avg2":[23.36,1.1429,1.0355],"avg3":[232.66,0.9496,0.9038],"lat1":[103.00,0.9091,0.9346],"lat2":[202.44,0.9663,0.8937],"lat3":[140.67,1.0532,0.9346],"cum":[523.88,0.9006,0.9261],"d3a":[74.00,0.8116,0.7407],"d3b":[24.48,1.0783,0.8485],"d2a":[74.00,0.8116,0.7926],"d2b":[24.48,1.1818,0.8061],"d1a":[74.00,0.8116,0.7889],"d1b":[24.48,0.8636,0.8333],"juna":[23.36,0.9048,0.9419],"junb":[367.67,0.7858,0.8192],"src":[524.77,0.8203,0.7824],"pa":[75.00,0.7708,0.8440],"pb":[22.25,1.0476,0.9667],"pc":[71.00,0.8794,0.8440],"pd":[44.50,1.0905,0.9667],"pe":[75.00,0.7944,0.8440],"foot":[935.23,0.8927,0.6920],"ow":[57.12,1.0566,0.9600],"mh1":[169.00,1.1506,1.0400],"mh2":[228.73,1.1711,1.0400],"mh3":[254.64,1.0553,1.0000],"cv1":[92.25,1.2242,1.1643],"cv2":[88.53,1.2253,1.1571],"la0":[97.88,1.0825,0.9842],"la1":[97.88,1.0938,0.9842],"la2":[97.88,1.0938,0.9842],"la3":[79.53,1.1154,0.9842],"la4":[12.25,1.1636,0.9667],"ra0":[110.11,1.0972,1.0474],"ra1":[110.11,1.0972,1.0474],"ra2":[110.11,1.0972,1.0474],"ra3":[110.11,1.0972,1.0474],"ra4":[110.11,1.0972,1.0474],"ra5":[110.11,1.0972,1.0474],"ra6":[110.11,1.0972,1.0474],"ra7":[110.11,1.1074,1.0474],"ra8":[12.25,1.3300,0.9800],"dt0":[22.25,1.1905,0.9286],"dt1":[11.12,1.1000,0.9286],"dt2":[22.25,1.1905,0.9286],"dt3":[22.25,1.2500,0.9286],"dt4":[22.25,1.1905,0.9286],"dt5":[22.25,1.1364,0.9286],"dt6":[22.25,1.1905,0.9286],"dt7":[11.12,1.0000,0.9286],"dt8":[11.12,1.1000,0.9286],"dt9":[22.25,1.1905,0.9286],"dt10":[22.25,1.1905,0.9286],"dt11":[22.25,1.1364,0.9286],"dt12":[22.25,1.1905,0.9286],"dt13":[11.12,1.0000,0.9286],"dt14":[11.12,1.1000,0.9286],"dt15":[22.25,1.1905,0.9286],"dt16":[22.25,1.1905,0.9286],"dt17":[22.25,1.1905,0.9286],"dt18":[22.25,1.1905,0.9286],"dt19":[11.12,1.1000,0.9286],"dt20":[11.12,1.1000,0.9286],"dt21":[22.25,1.2500,0.9286],"dt22":[22.25,1.2500,0.9286],"dt23":[22.25,1.1905,0.9286],"dt24":[22.25,1.1364,0.9286],"dt25":[11.12,1.0000,0.9286],"dt26":[11.12,1.1000,0.9286],"dt27":[22.25,1.1905,0.9286],"dt28":[22.25,1.1905,0.9286],"dt29":[22.25,1.1905,0.9286],"dt30":[22.25,1.1905,0.9286],"dt31":[11.12,1.1000,0.9286],"dt32":[11.12,1.2222,0.9286],"dt33":[22.25,1.1905,0.9286],"dt34":[22.25,1.2500,0.9286],"dt35":[22.25,1.1905,0.9286],"dt36":[22.25,1.1905,0.9286],"dt37":[11.12,0.8000,0.9286],"dt38":[11.12,1.1000,0.9286],"dt39":[21.16,1.3158,0.9286],"dt40":[22.25,1.2500,0.9286],"dt41":[22.25,1.1364,0.9286],"dt42":[22.25,1.1905,0.9286],"dt43":[11.12,0.8889,0.9286],"dt44":[11.12,1.1000,0.9286],"dt45":[21.16,1.2500,0.9286],"dt46":[22.25,1.1905,0.9286],"dt47":[22.25,1.1905,0.9286],"dt48":[22.25,1.1905,0.9286],"dt49":[22.25,1.1364,0.9286],"dt50":[11.12,1.1000,0.9286],"mo0":[106.05,0.9151,0.8929],"mo1":[108.05,0.8704,0.8182],"mo2":[117.05,0.8793,0.8929],"mo3":[108.05,0.8899,0.8929],"mo4":[105.05,0.9048,0.8710],"mo5":[106.05,0.8962,0.8929],"mo6":[106.05,0.8774,0.8929],"mo7":[103.05,0.9223,0.8929],"mo8":[107.05,0.8962,0.8929],"mo9":[105.05,0.9057,0.8929]};
for(var id in W){var e=document.getElementById(id);if(!e)continue;var w=e.offsetWidth;var a=W[id];
if(w>0&&Math.abs(w-a[0])>1.5&&Math.abs(w-a[0])/a[0]>0.03){e.style.transform='scale('+(a[1]*a[0]/w).toFixed(4)+','+a[2]+')';}}})();
</script>
</body></html>
